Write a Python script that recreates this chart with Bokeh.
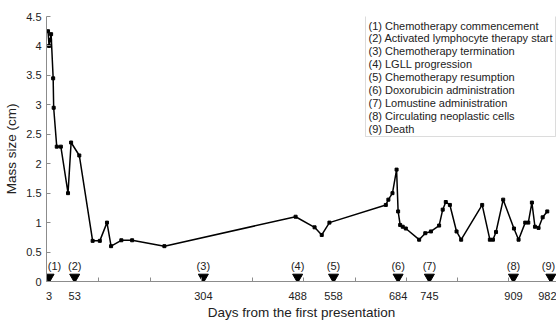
from bokeh.plotting import figure
from bokeh.models import FixedTicker, Label, BoxAnnotation
from bokeh.embed import file_html
from bokeh.resources import INLINE

# ---- data ----
days = [1, 3, 5, 7, 11, 12, 18, 26, 40, 46, 62, 88, 102, 116, 124, 144, 165, 228,
        484, 521, 535, 550, 660, 665, 673, 681, 684, 688, 693, 699, 725, 737, 748,
        764, 771, 777, 785, 798, 807, 848, 863, 869, 875, 889, 910, 919, 932, 938,
        945, 951, 958, 966, 975]
mass = [4.25, 4.0, 4.1, 4.2, 3.45, 2.95, 2.29, 2.29, 1.5, 2.36, 2.14, 0.69, 0.69,
        1.0, 0.6, 0.7, 0.7, 0.6, 1.1, 0.92, 0.79, 1.0, 1.3, 1.39, 1.5, 1.9, 1.19,
        0.96, 0.93, 0.9, 0.71, 0.82, 0.85, 0.95, 1.22, 1.35, 1.3, 0.85, 0.71, 1.3,
        0.71, 0.71, 0.84, 1.39, 0.9, 0.71, 1.0, 1.0, 1.34, 0.93, 0.91, 1.09, 1.19]

event_days = [3, 53, 304, 488, 558, 684, 745, 909, 982]
event_labels = ["(1)", "(2)", "(3)", "(4)", "(5)", "(6)", "(7)", "(8)", "(9)"]
legend_texts = [
    "(1) Chemotherapy commencement",
    "(2) Activated lymphocyte therapy start",
    "(3) Chemotherapy termination",
    "(4) LGLL progression",
    "(5) Chemotherapy resumption",
    "(6) Doxorubicin administration",
    "(7) Lomustine administration",
    "(8) Circulating neoplastic cells",
    "(9) Death",
]
y_ticks = [0, 0.5, 1, 1.5, 2, 2.5, 3, 3.5, 4, 4.5]
y_tick_labels = ["0", "0.5", "1", "1.5", "2", "2.5", "3", "3.5", "4", "4.5"]
x_minor_ticks = [100, 200, 300, 400, 500, 600, 700, 800, 900]

FONT = "Liberation Sans"
AXIS_COLOR = "#8c8c8c"
TEXT_COLOR = "#222222"
X_START, X_END = -2, 993

p = figure(width=556, height=324, x_range=(X_START, X_END), y_range=(0, 4.5),
           output_backend="svg", toolbar_location=None,
           min_border_left=46, min_border_right=0, min_border_top=16,
           min_border_bottom=43)
p.outline_line_color = None
p.grid.visible = False
p.background_fill_color = "white"

# x axis
xa = p.xaxis[0]
xa.ticker = FixedTicker(ticks=event_days, minor_ticks=x_minor_ticks)
xa.axis_label = "Days from the first presentation"
xa.axis_label_text_font = FONT
xa.axis_label_text_font_size = "13.5px"
xa.axis_label_text_font_style = "normal"
xa.axis_label_text_color = TEXT_COLOR
xa.axis_label_standoff = 2
xa.major_label_text_font = FONT
xa.major_label_text_font_size = "11px"
xa.major_label_text_color = TEXT_COLOR
xa.major_label_standoff = 10
xa.major_tick_in = 0
xa.major_tick_out = 0
xa.minor_tick_in = 4
xa.minor_tick_out = 0
xa.axis_line_color = AXIS_COLOR
xa.minor_tick_line_color = AXIS_COLOR

# y axis
ya = p.yaxis[0]
ya.ticker = FixedTicker(ticks=y_ticks)
ya.major_label_overrides = {t: s for t, s in zip(y_ticks, y_tick_labels)}
ya.axis_label = "Mass size (cm)"
ya.axis_label_text_font = FONT
ya.axis_label_text_font_size = "13.5px"
ya.axis_label_text_font_style = "normal"
ya.axis_label_text_color = TEXT_COLOR
ya.axis_label_standoff = 4
ya.major_label_text_font = FONT
ya.major_label_text_font_size = "11px"
ya.major_label_text_color = TEXT_COLOR
ya.major_label_standoff = 5
ya.major_tick_in = 4
ya.major_tick_out = 0
ya.minor_tick_line_color = None
ya.axis_line_color = AXIS_COLOR
ya.major_tick_line_color = AXIS_COLOR

# data line
p.line(days, mass, line_color="black", line_width=1.5)
p.scatter(days, mass, marker="square", size=3, color="black")

# event markers
tri_y = 0.075
p.scatter(event_days, [tri_y] * len(event_days), marker="inverted_triangle",
          size=10, color="black")
# labels near the frame edges are nudged inward so they are not clipped
px_per_day = 510 / (X_END - X_START)
half_w = 8
for d, t in zip(event_days, event_labels):
    cx = (d - X_START) * px_per_day
    dx = 0
    if cx - half_w < 0:
        dx = half_w - cx
    elif cx + half_w > 510:
        dx = 510 - half_w - cx
    p.add_layout(Label(x=d, y=0, text=t, x_offset=dx, y_offset=10, text_font=FONT,
                       text_font_size="11px", text_color=TEXT_COLOR,
                       text_align="center", text_baseline="bottom", level="overlay"))

# legend box (screen units, relative to the plot frame, y upward)
box_left, box_right, box_top, box_bottom = 319, 509, 268, 145
p.add_layout(BoxAnnotation(left=box_left, right=box_right, top=box_top, bottom=box_bottom,
                           left_units="screen", right_units="screen",
                           top_units="screen", bottom_units="screen",
                           fill_color="white", fill_alpha=1.0,
                           line_color="#8c8c8c", line_width=1, level="annotation"))
row0, row_step = 256, 12.9
for i, t in enumerate(legend_texts):
    p.add_layout(Label(x=box_left + 3, y=row0 - i * row_step, x_units="screen",
                       y_units="screen", text=t, text_font=FONT,
                       text_font_size="11px", text_color=TEXT_COLOR,
                       text_baseline="middle", text_align="left", level="overlay"))

open("out.html", "w").write(file_html(p, INLINE))
